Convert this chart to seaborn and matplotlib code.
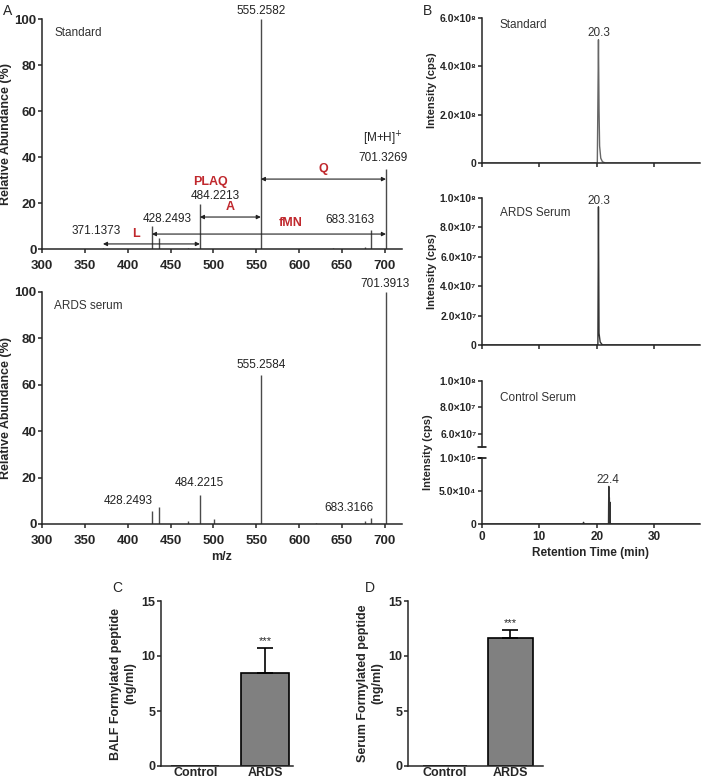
import numpy as np
import pandas as pd
import seaborn as sns
import matplotlib.pyplot as plt

sns.set_style('ticks')
plt.rcParams['font.family'] = ['Liberation Sans', 'DejaVu Sans']
plt.rcParams['axes.linewidth'] = 1.1
plt.rcParams['xtick.major.width'] = 1.1
plt.rcParams['ytick.major.width'] = 1.1
plt.rcParams['xtick.major.size'] = 3
plt.rcParams['ytick.major.size'] = 3

# --- A: MS/MS spectra ---
std_mz = [371.1373, 428.2493, 436.2, 470.0, 484.2213, 555.2582, 640.0, 677.0, 683.3163, 701.3269]
std_ab = [0.6, 9.9, 5.0, 0.5, 19.7, 100, 0.4, 1.0, 8.1, 34.8]
ards_mz = [428.2493, 436.2, 470.0, 484.2215, 501.0, 555.2584, 620.0, 677.0, 683.3166, 701.3913]
ards_ab = [5.6, 7.5, 1.5, 12.5, 2.0, 64.3, 0.5, 1.3, 2.7, 100]

# peak labels: (text, m/z, y)
std_labels = [('555.2582', 556, 101), ('[M+H]$^{+}$', 698, 44), ('701.3269', 698, 37),
              ('484.2213', 502, 20.5), ('428.2493', 446, 10.5), ('371.1373', 363, 5), ('683.3163', 659, 10)]
ards_labels = [('701.3913', 700, 101), ('555.2584', 556, 66), ('484.2215', 484, 15),
               ('428.2493', 400, 7.2), ('683.3166', 658, 4.3)]
# fragment arrows: (label, start, end, y, label x, label y)
frag_arrows = [('Q', 555.3, 701.3, 30.4, 628, 32), ('A', 484.2, 555.3, 13.9, 520, 15.5),
               ('fMN', 428.2, 701.3, 6.5, 590, 8.5), ('L', 371.1, 484.2, 2.2, 410, 3.8)]

# --- B: chromatograms ---
std_t = [0, 19.9, 20.1, 20.2, 20.3, 20.4, 20.5, 20.7, 21.0, 21.5, 38]
std_i = [0, 0, 0, 2.5e8, 5.1e8, 2.2e8, 7e7, 2e7, 5e6, 0, 0]
ards_t = [0, 20.0, 20.2, 20.3, 20.4, 20.6, 21.0, 38]
ards_i = [0, 0, 0, 9.4e7, 8e6, 2e6, 0, 0]
ctrl_t = [0, 17.6, 17.7, 17.8, 22.05, 22.1, 22.15, 22.2, 22.25, 22.3, 22.35, 22.4, 22.45, 38]
ctrl_i = [0, 0, 2.5e3, 0, 0, 5.7e4, 0, 4.0e4, 0, 3.3e4, 0, 1e3, 0, 0]

std_yt = [0, 2e8, 4e8, 6e8]
std_yl = ['0', '2.0×10⁸', '4.0×10⁸', '6.0×10⁸']
ards_yt = [0, 2e7, 4e7, 6e7, 8e7, 1e8]
ards_yl = ['0', '2.0×10⁷', '4.0×10⁷', '6.0×10⁷', '8.0×10⁷', '1.0×10⁸']
ctrl_hi_yt = [6e7, 8e7, 1e8]
ctrl_hi_yl = ['6.0×10⁷', '8.0×10⁷', '1.0×10⁸']
ctrl_lo_yt = [0, 5e4, 1e5]
ctrl_lo_yl = ['0', '5.0×10⁴', '1.0×10⁵']

# --- C, D: bar charts ---
groups = ['Control', 'ARDS']
balf_mean = [0, 8.45]
balf_err = [0, 2.25]
serum_mean = [0, 11.6]
serum_err = [0, 0.75]

fig = plt.figure(figsize=(7.06, 7.83), dpi=100)
W, H = 706, 783


def add_ax(l, t, r, b):
    return fig.add_axes([l / W, 1 - b / H, (r - l) / W, (b - t) / H])


def style(ax):
    sns.despine(ax=ax)
    for lab in ax.get_xticklabels() + ax.get_yticklabels():
        lab.set_fontweight('bold')


def spectrum(ax, mz, ab, labels, name):
    ax.vlines(mz, 0, ab, color='#4a4a4a', lw=1.0)
    ax.set_xlim(300, 720)
    ax.set_ylim(0, 100)
    ax.set_xticks(range(300, 701, 50))
    ax.set_yticks(range(0, 101, 20))
    ax.tick_params(labelsize=9.5, pad=1)
    ax.tick_params(axis='x', pad=5)
    ax.set_ylabel('Relative Abundance (%)', fontsize=9, fontweight='bold', labelpad=2)
    ax.text(314, 94, name, fontsize=8.5, color='#333333', va='center')
    for txt, x, y in labels:
        ax.text(x, y, txt, fontsize=8.5, ha='center', va='bottom', color='#222222', clip_on=False)
    style(ax)


axA1 = add_ax(42, 19, 402, 249)
spectrum(axA1, std_mz, std_ab, std_labels, 'Standard')
for lab, x0, x1, y, lx, ly in frag_arrows:
    axA1.annotate('', xy=(x0, y), xytext=(x1, y),
                  arrowprops=dict(arrowstyle='<|-|>', lw=0.8, color='#222222',
                                  mutation_scale=6, shrinkA=0, shrinkB=0))
    axA1.text(lx, ly, lab, fontsize=9, fontweight='bold', color='#c0282d', ha='center', va='bottom')
axA1.text(496, 26.5, 'PLAQ', fontsize=9, fontweight='bold', color='#c0282d', ha='center', va='bottom')

axA2 = add_ax(42, 292, 402, 524)
spectrum(axA2, ards_mz, ards_ab, ards_labels, 'ARDS serum')
axA2.set_xlabel('m/z', fontsize=9, fontweight='bold', labelpad=3)


def chrom(ax, t, i, color):
    sns.lineplot(x=t, y=i, ax=ax, color=color, lw=1.0, estimator=None, sort=False)
    ax.set_xlim(0, 38)
    ax.set_xticks([0, 10, 20, 30])
    ax.tick_params(axis='y', labelsize=7.5, pad=1)
    ax.tick_params(axis='x', labelsize=8.5, pad=2)


axB1 = add_ax(482, 18, 700, 163)
chrom(axB1, std_t, std_i, '#666666')
axB1.set_ylim(0, 6e8)
axB1.set_yticks(std_yt, labels=std_yl)
axB1.set_xticklabels([])
axB1.set_ylabel('Intensity (cps)', fontsize=8, fontweight='bold', labelpad=2)
axB1.text(3.1, 5.7e8, 'Standard', fontsize=8.5, color='#333333', va='center')
axB1.text(20.3, 5.15e8, '20.3', fontsize=8.5, ha='center', va='bottom', color='#333333')
style(axB1)

axB2 = add_ax(482, 198, 700, 345)
chrom(axB2, ards_t, ards_i, '#333333')
axB2.set_ylim(0, 1e8)
axB2.set_yticks(ards_yt, labels=ards_yl)
axB2.set_xticklabels([])
axB2.set_ylabel('Intensity (cps)', fontsize=8, fontweight='bold', labelpad=2)
axB2.text(3.1, 0.9e8, 'ARDS Serum', fontsize=8.5, color='#333333', va='center')
axB2.text(20.3, 0.94e8, '20.3', fontsize=8.5, ha='center', va='bottom', color='#333333', clip_on=False)
style(axB2)

axB3 = add_ax(482, 381, 700, 447)
chrom(axB3, ctrl_t, ctrl_i, '#333333')
axB3.set_ylim(5e7, 1e8)
axB3.set_yticks(ctrl_hi_yt, labels=ctrl_hi_yl)
axB3.set_ylabel('')
axB3.tick_params(axis='x', bottom=False, labelbottom=False)
axB3.text(3.1, 8.7e7, 'Control Serum', fontsize=8.5, color='#333333', va='center')
style(axB3)
axB3.spines['bottom'].set_visible(False)

axB4 = add_ax(482, 458, 700, 524)
chrom(axB4, ctrl_t, ctrl_i, '#333333')
axB4.set_ylim(0, 1e5)
axB4.set_yticks(ctrl_lo_yt, labels=ctrl_lo_yl)
axB4.set_xticklabels(['0', '10', '20', '30'])
axB4.set_xlabel('Retention Time (min)', fontsize=8.5, fontweight='bold', labelpad=3)
axB4.set_ylabel('')
axB4.text(21.9, 5.8e4, '22.4', fontsize=8.5, ha='center', va='bottom', color='#333333')
style(axB4)
# break marks
for ax, yv in [(axB3, 0), (axB4, 1)]:
    ax.plot([-0.02, 0.02], [yv, yv], transform=ax.transAxes, color='black', lw=1.1, clip_on=False)
fig.text(428 / W, 1 - 452 / H, 'Intensity (cps)', rotation=90, fontsize=8, fontweight='bold',
         ha='center', va='center')


def bars(ax, means, errs, ylabel, xl):
    df = pd.DataFrame({'group': groups, 'value': means})
    sns.barplot(data=df, x='group', y='value', ax=ax, color='#808080', edgecolor='black',
                linewidth=1.2, width=0.68, saturation=1)
    ax.errorbar([1], [means[1]], yerr=[[0], [errs[1]]], fmt='none', ecolor='black',
                elinewidth=1.2, capsize=6, capthick=1.2)
    ax.text(1, means[1] + errs[1] + 0.2, '***', ha='center', va='bottom', fontsize=8)
    ax.set_ylim(0, 15)
    ax.set_yticks([0, 5, 10, 15])
    ax.set_xlim(*xl)
    ax.set_xlabel('')
    ax.set_ylabel(ylabel, fontsize=9, fontweight='bold', labelpad=4)
    ax.tick_params(labelsize=9, pad=1)
    ax.tick_params(axis='x', length=0)
    style(ax)


axC = add_ax(161, 601, 293, 766)
bars(axC, balf_mean, balf_err, 'BALF Formylated peptide\n(ng/ml)', (-0.49, 1.4))
axD = add_ax(408, 601, 543, 766)
bars(axD, serum_mean, serum_err, 'Serum Formylated peptide\n(ng/ml)', (-0.57, 1.5))

for lab, x, y in [('A', 3, 11), ('B', 423, 11), ('C', 112, 588), ('D', 365, 588)]:
    fig.text(x / W, 1 - y / H, lab, fontsize=10, va='center')

fig.savefig('out.png', dpi=100)
